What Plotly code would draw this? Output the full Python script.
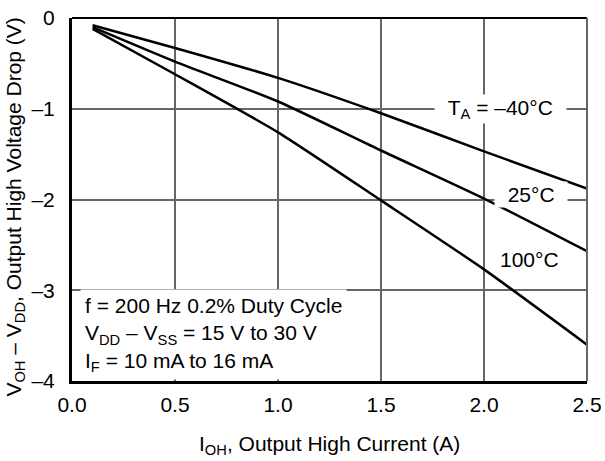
import plotly.graph_objects as go

# Data
current = [0.1, 0.5, 1.0, 1.5, 2.0, 2.5]
drop_m40 = [-0.08, -0.33, -0.66, -1.05, -1.47, -1.88]
drop_25 = [-0.10, -0.48, -0.92, -1.46, -1.99, -2.57]
drop_100 = [-0.12, -0.62, -1.26, -2.01, -2.77, -3.60]

x_tickvals = [0.0, 0.5, 1.0, 1.5, 2.0, 2.5]
x_ticktext = ["0.0", "0.5", "1.0", "1.5", "2.0", "2.5"]
y_tickvals = [0, -1, -2, -3, -4]
y_ticktext = ["0", "\u20131", "\u20132", "\u20133", "\u20134"]

FONT = "Liberation Sans, Arial, sans-serif"
FS = 21
NB = "\u00a0"

fig = go.Figure()
for ys in (drop_m40, drop_25, drop_100):
    fig.add_trace(go.Scatter(x=current, y=ys, mode="lines",
                             line=dict(color="black", width=2.5, shape="spline", smoothing=0.6),
                             showlegend=False, hoverinfo="skip"))

grid = "#666666"
fig.update_layout(
    width=605, height=461,
    margin=dict(l=72, r=18, t=18, b=80, autoexpand=False),
    paper_bgcolor="white", plot_bgcolor="white",
    font=dict(family=FONT, size=FS, color="black"),
    xaxis=dict(range=[0, 2.5], tickvals=x_tickvals, ticktext=x_ticktext,
               showgrid=True, gridcolor=grid, gridwidth=2, zeroline=False,
               showline=True, linecolor="black", linewidth=3, automargin=False,
               ticks="", ticklabelstandoff=3, fixedrange=True),
    yaxis=dict(range=[-4, 0], tickvals=y_tickvals, ticktext=y_ticktext,
               showgrid=True, gridcolor=grid, gridwidth=2, zeroline=False,
               showline=True, linecolor="black", linewidth=3, automargin=False,
               ticks="", ticklabelstandoff=10, fixedrange=True),
)

# top and right frame
fig.add_shape(type="line", xref="x domain", yref="y domain", x0=0, x1=1, y0=1, y1=1,
              line=dict(color="black", width=2), layer="above")
fig.add_shape(type="line", xref="x domain", yref="y domain", x0=1, x1=1, y0=0, y1=1,
              line=dict(color=grid, width=2), layer="above")

# curve labels
fig.add_annotation(x=2.078, y=-1.0, xref="x", yref="y",
                   text=NB * 2 + "T<sub>A</sub> = \u201340\u00b0C" + NB * 2,
                   showarrow=False, bgcolor="white", borderpad=1, font=dict(size=FS))
fig.add_annotation(x=2.228, y=-1.95, xref="x", yref="y",
                   text=NB * 2 + "25\u00b0C" + NB * 2,
                   showarrow=False, bgcolor="white", borderpad=1, font=dict(size=FS))
fig.add_annotation(x=2.223, y=-2.656, xref="x", yref="y",
                   text="100\u00b0C", showarrow=False, font=dict(size=FS))

# conditions box
fig.add_annotation(x=0, y=-4, xref="x", yref="y", xanchor="left", yanchor="bottom",
                   xshift=8, yshift=1, align="left",
                   text=("f = 200 Hz 0.2% Duty Cycle<br>"
                         "V<sub>DD</sub> \u2013 V<sub>SS</sub> = 15 V to 30 V<br>"
                         "I<sub>F</sub> = 10 mA to 16 mA"),
                   showarrow=False, bgcolor="white", borderpad=4, font=dict(size=FS))

# axis titles
fig.add_annotation(x=0.5, y=-0.176, xref="paper", yref="paper",
                   xanchor="center", yanchor="middle",
                   text="I<sub>OH</sub>, Output High Current (A)",
                   showarrow=False, font=dict(size=FS))
fig.add_annotation(x=-0.111, y=0.48, xref="paper", yref="paper", textangle=-90,
                   xanchor="center", yanchor="middle",
                   text="V<sub>OH</sub> \u2013 V<sub>DD</sub>, Output High Voltage Drop (V)",
                   showarrow=False, font=dict(size=FS))

fig.write_html("out.html", config={"displayModeBar": False},
               post_script="document.body.style.margin='0';")
